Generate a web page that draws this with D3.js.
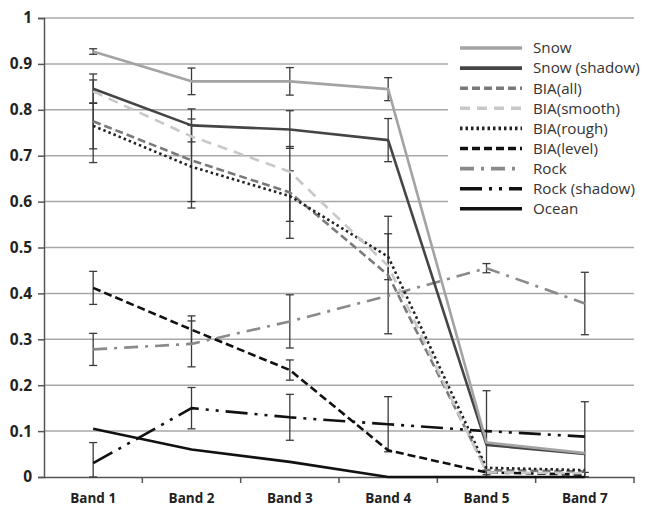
<!DOCTYPE html>
<html><head><meta charset="utf-8">
<script src="https://cdn.jsdelivr.net/npm/d3@7"></script>
<style>body{margin:0;background:#fff}svg{display:block}</style>
</head><body><svg id="c" width="645" height="511"></svg>
<script>
const categories = ["Band 1","Band 2","Band 3","Band 4","Band 5","Band 7"];
const yTicks = [0,0.1,0.2,0.3,0.4,0.5,0.6,0.7,0.8,0.9,1];
const seriesNames = ["Snow","Snow (shadow)","BIA(all)","BIA(smooth)","BIA(rough)","BIA(level)","Rock","Rock (shadow)","Ocean"];
const snow        = [0.927,0.862,0.862,0.845,0.075,0.052];
const snowErr     = [0.006,0.029,0.030,0.025,0.000,0.000];
const snowShadow  = [0.846,0.766,0.757,0.734,0.070,0.050];
const snowShadowErr=[0.032,0.036,0.041,0.047,0.118,0.114];
const biaAll      = [0.775,0.690,0.620,0.440,0.015,0.012];
const biaAllErr   = [0.090,0.090,0.100,0.128,0.000,0.000];
const biaSmooth   = [0.840,0.742,0.665,0.460,0.010,0.008];
const biaSmoothErr= [0.000,0.000,0.000,0.000,0.000,0.000];
const biaRough    = [0.765,0.676,0.612,0.480,0.020,0.015];
const biaRoughErr = [0.050,0.090,0.055,0.050,0.000,0.000];
const biaLevel    = [0.412,0.321,0.233,0.058,0.010,0.005];
const biaLevelErr = [0.036,0.030,0.022,0.000,0.005,0.005];
const rock        = [0.278,0.290,0.339,0.395,0.455,0.378];
const rockErr     = [0.035,0.050,0.058,0.000,0.010,0.068];
const rockShadow  = [0.030,0.150,0.130,0.115,0.100,0.088];
const rockShadowErr=[0.045,0.045,0.050,0.060,0.000,0.000];
const ocean       = [0.105,0.060,0.033,0.000,0.000,0.000];

const series = [
  {name:seriesNames[0], v:snow, e:snowErr, color:"#a3a3a3", w:2.6, dash:null},
  {name:seriesNames[1], v:snowShadow, e:snowShadowErr, color:"#454545", w:2.6, dash:null},
  {name:seriesNames[2], v:biaAll, e:biaAllErr, color:"#7a7a7a", w:2.6, dash:"8,4"},
  {name:seriesNames[3], v:biaSmooth, e:biaSmoothErr, color:"#c8c8c8", w:2.6, dash:"10,7"},
  {name:seriesNames[4], v:biaRough, e:biaRoughErr, color:"#222", w:2.6, dash:"2.5,3"},
  {name:seriesNames[5], v:biaLevel, e:biaLevelErr, color:"#111", w:2.6, dash:"8,4"},
  {name:seriesNames[6], v:rock, e:rockErr, color:"#8a8a8a", w:2.6, dash:"14,7,3,7"},
  {name:seriesNames[7], v:rockShadow, e:rockShadowErr, color:"#111", w:2.6, dash:"22,7,3,7,3,7"},
  {name:seriesNames[8], v:ocean, e:null, color:"#111", w:2.6, dash:null}
];

const svg = d3.select("#c");
const L=44, R=634, T=18, B=477;
const x = d3.scaleBand().domain(categories).range([L,R]);
const y = d3.scaleLinear().domain([0,1]).range([B,T]);
const cx = c => x(c)+x.bandwidth()/2;

// gridlines
svg.append("g").selectAll("line").data(yTicks.filter(t=>t>0)).join("line")
  .attr("x1",L).attr("x2",R).attr("y1",d=>y(d)).attr("y2",d=>y(d))
  .attr("stroke","#a8a8a8").attr("stroke-width",1.5);

// y axis
const ya = svg.append("g").attr("transform",`translate(${L},0)`)
  .call(d3.axisLeft(y).tickValues(yTicks).tickSize(6).tickFormat(d=>d===0||d===1?String(d):d3.format(".1f")(d)));
ya.select(".domain").attr("stroke","#555").attr("stroke-width",1.5);
ya.selectAll(".tick line").attr("stroke","#555").attr("stroke-width",1.5);
ya.selectAll("text").attr("font-family","Open Sans, sans-serif").attr("font-weight","bold")
  .attr("font-size",15.5).attr("fill","#222").attr("dx",-3);

// x axis
const xa = svg.append("g").attr("transform",`translate(0,${B})`)
  .call(d3.axisBottom(x).tickSize(0).tickPadding(16));
xa.select(".domain").attr("stroke","#555").attr("stroke-width",1.5);
xa.selectAll("text").attr("font-family","Open Sans, sans-serif").attr("font-weight","bold")
  .attr("font-size",13.5).attr("fill","#222");
svg.append("g").selectAll("line").data(categories.slice(1).concat(["__end"])).join("line")
  .attr("x1",d=>d==="__end"?R:x(d)).attr("x2",d=>d==="__end"?R:x(d))
  .attr("y1",B).attr("y2",B+6).attr("stroke","#555").attr("stroke-width",1.5);

// error bars
const eb = svg.append("g");
series.forEach(s=>{
  if(!s.e) return;
  categories.forEach((c,i)=>{
    if(s.e[i]<=0) return;
    const lo=Math.max(0,s.v[i]-s.e[i]), hi=s.v[i]+s.e[i];
    const g=eb.append("g").attr("stroke","#3a3a3a").attr("stroke-width",1.3);
    g.append("line").attr("x1",cx(c)).attr("x2",cx(c)).attr("y1",y(lo)).attr("y2",y(hi));
    g.append("line").attr("x1",cx(c)-4).attr("x2",cx(c)+4).attr("y1",y(hi)).attr("y2",y(hi));
    g.append("line").attr("x1",cx(c)-4).attr("x2",cx(c)+4).attr("y1",y(lo)).attr("y2",y(lo));
  });
});

// lines
const line = d3.line().x((d,i)=>cx(categories[i])).y(d=>y(d));
const order=[6,7,8,5,2,4,3,1,0];
order.forEach(k=>{
  const s=series[k];
  svg.append("path").datum(s.v).attr("d",line).attr("fill","none")
    .attr("stroke",s.color).attr("stroke-width",s.w)
    .attr("stroke-dasharray",s.dash).attr("stroke-linejoin","round");
});

// legend
const lg = svg.append("g");
lg.append("rect").attr("x",448).attr("y",32).attr("width",197).attr("height",200).attr("fill","#fff");
series.forEach((s,i)=>{
  const yy=48+i*20.1;
  lg.append("line").attr("x1",460).attr("x2",522).attr("y1",yy).attr("y2",yy)
    .attr("stroke",s.color).attr("stroke-width",s.w+1).attr("stroke-dasharray",s.dash);
  lg.append("text").attr("x",533).attr("y",yy).attr("dy","0.35em").text(s.name)
    .attr("font-family","Open Sans, sans-serif").attr("font-size",15.2).attr("fill","#333");
});
</script></body></html>
